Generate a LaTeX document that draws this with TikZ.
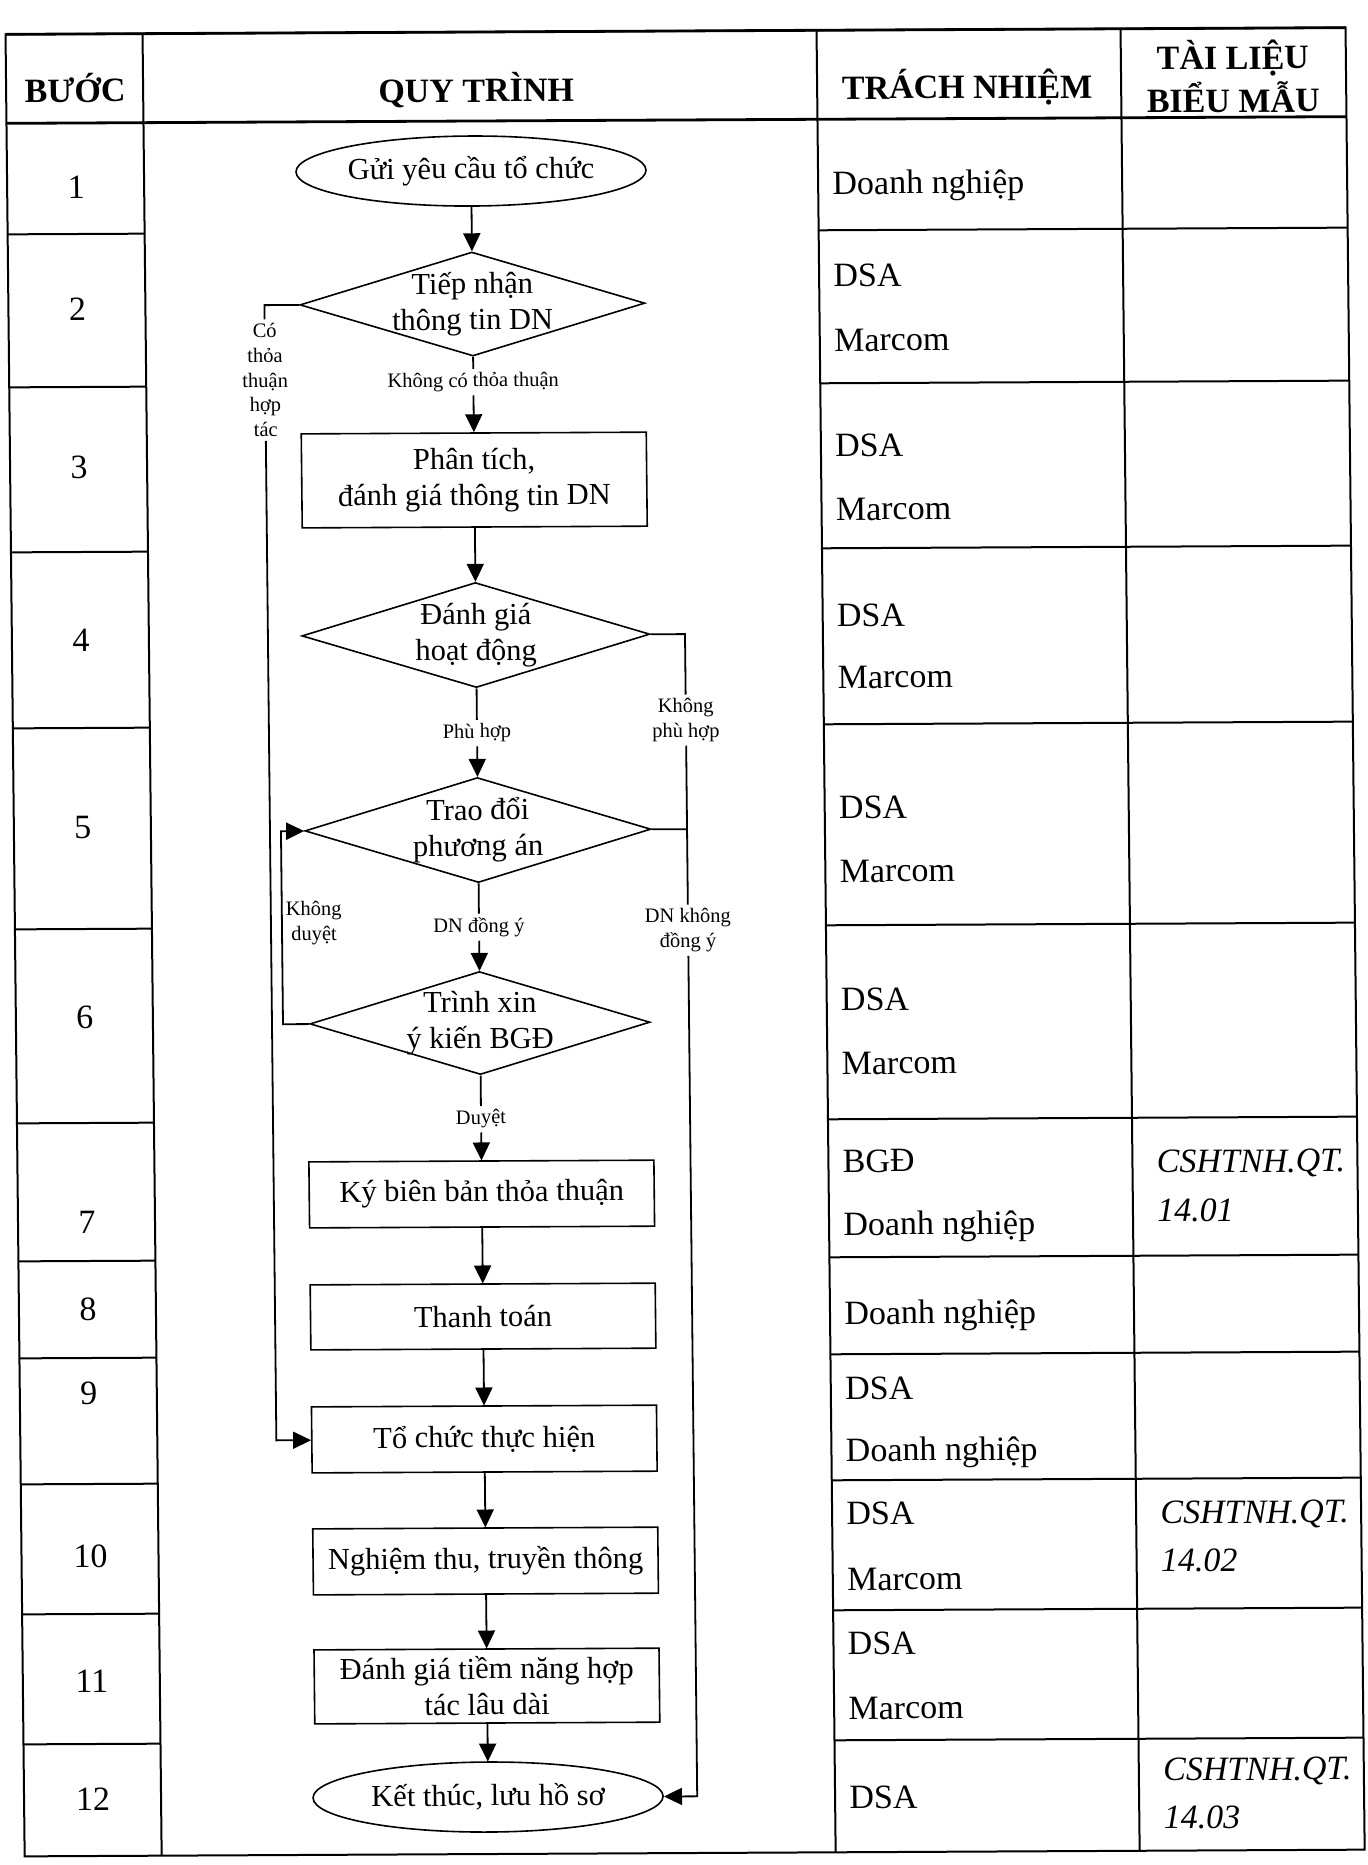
\documentclass[tikz,border=0pt]{standalone}
\usepackage{fontspec}
\setmainfont{Liberation Serif}
\usetikzlibrary{shapes.geometric,arrows.meta}
\newcommand\tabfont{\fontsize{17pt}{20pt}\selectfont}
\newcommand\flowfont{\fontsize{15.25pt}{18pt}\selectfont}
\newcommand\labfont{\fontsize{10.25pt}{12.4pt}\selectfont}
\begin{document}
\begin{tikzpicture}[x=0.5pt,y=-0.5pt,
  tline/.style={line width=1pt},
  heavy/.style={line width=1.4pt},
  conn/.style={line width=0.9pt},
  arr/.style={conn,-{Triangle[length=9pt,width=8.5pt]}},
  fbox/.style={draw,line width=0.8pt,minimum width=172.5pt,inner sep=0pt,font=\flowfont,align=center},
  fdia/.style={diamond,draw,line width=0.8pt,inner sep=0pt},
  fell/.style={ellipse,draw,line width=0.8pt,inner sep=0pt,minimum width=175pt,minimum height=35pt,font=\flowfont},
  ftext/.style={font=\flowfont,align=center,inner sep=0pt},
  lbl/.style={font=\labfont,align=center,inner sep=1.75pt},
  cell/.style={anchor=base west,font=\tabfont,inner sep=0pt},
  cellit/.style={anchor=base west,font=\tabfont\itshape,inner sep=0pt},
  num/.style={anchor=base,font=\tabfont,inner sep=0pt},
  hdr/.style={anchor=base,font=\tabfont\bfseries,inner sep=0pt},
]
\useasboundingbox (0,0) rectangle (1367,1865);
\fill[white] (0,0) rectangle (1367,1865);
\begin{scope}[cm={1,0.005,-0.0105,1,(-4.8956pt,-1.70875pt)},transform shape]
% ---------- table ----------
\draw[tline] (15,31) rectangle (1355,1853);
\draw[heavy] (15,31) -- (1355,31);
\draw[heavy] (15,120) -- (1355,120);
\foreach \x in {152,826,1130} \draw[tline] (\x,31) -- (\x,1853);
\foreach \y in {231,384,549,725,926,1120,1258,1355,1481,1611,1741} {
  \draw[tline] (15,\y) -- (152,\y);
  \draw[tline] (826,\y) -- (1355,\y);
}
% header
\node[hdr] (h1) at (84,99) {BƯỚC};
\node[hdr] (h2) at (485,101) {QUY TRÌNH};
\node[hdr] (h3) at (976,100) {TRÁCH NHIỆM};
\node[hdr] (h4a) at (1242,72) {TÀI LIỆU};
\node[hdr] (h4b) at (1242,115) {BIỂU MẪU};
% step numbers
\node[num] (n1) at (84,195) {1};
\node[num] (n2) at (84,317) {2};
\node[num] (n3) at (84,475) {3};
\node[num] (n4) at (84,648) {4};
\node[num] (n5) at (84,835) {5};
\node[num] (n6) at (84,1025) {6};
\node[num] (n7) at (84,1230) {7};
\node[num] (n8) at (84,1317) {8};
\node[num] (n9) at (84,1401) {9};
\node[num] (n10) at (84,1564) {10};
\node[num] (n11) at (84,1689) {11};
\node[num] (n12) at (84,1807) {12};
% responsibilities
\node[cell] (r1) at (840,195) {Doanh nghiệp};
\node[cell] (r2a) at (840,287) {DSA};
\node[cell] (r2b) at (840,352) {Marcom};
\node[cell] (r3a) at (840,457) {DSA};
\node[cell] (r3b) at (840,521) {Marcom};
\node[cell] (r4a) at (840,627) {DSA};
\node[cell] (r4b) at (840,689) {Marcom};
\node[cell] (r5a) at (840,819) {DSA};
\node[cell] (r5b) at (840,883) {Marcom};
\node[cell] (r6a) at (840,1011) {DSA};
\node[cell] (r6b) at (840,1075) {Marcom};
\node[cell] (r7a) at (840,1173) {BGĐ};
\node[cell] (r7b) at (840,1236) {Doanh nghiệp};
\node[cell] (r8) at (840,1325) {Doanh nghiệp};
\node[cell] (r9a) at (840,1400) {DSA};
\node[cell] (r9b) at (840,1462) {Doanh nghiệp};
\node[cell] (r10a) at (840,1525) {DSA};
\node[cell] (r10b) at (840,1591) {Marcom};
\node[cell] (r11a) at (840,1655) {DSA};
\node[cell] (r11b) at (840,1720) {Marcom};
\node[cell] (r12) at (840,1809) {DSA};
% documents
\node[cellit] (f7a) at (1154,1175) {CSHTNH.QT.};
\node[cellit] (f7b) at (1154,1224) {14.01};
\node[cellit] (f10a) at (1154,1526) {CSHTNH.QT.};
\node[cellit] (f10b) at (1154,1574) {14.02};
\node[cellit] (f12a) at (1154,1783) {CSHTNH.QT.};
\node[cellit] (f12b) at (1154,1831) {14.03};
% ---------- flowchart ----------
\node[fell] (e1) at (479,170) {Gửi yêu cầu tổ chức};
\node[fdia,minimum width=172.5pt,minimum height=52pt] (d1) at (479,303) {};
\node[ftext] (t1) at (d1) {Tiếp nhận\\thông tin DN};
\node[lbl] (l1) at (479,381) {Không có thỏa thuận};
\node[fbox,minimum height=47pt] (b1) at (479,479) {Phân tích,\\đánh giá thông tin DN};
\node[fdia,minimum width=174pt,minimum height=52.5pt] (d2) at (479,634) {};
\node[ftext] (t2) at (d2) {Đánh giá\\hoạt động};
\node[lbl] (l2) at (479,732) {Phù hợp};
\node[fdia,minimum width=173pt,minimum height=52.5pt] (d3) at (479,829) {};
\node[ftext] (t3) at (d3) {Trao đổi\\phương án};
\node[lbl] (l3) at (479,926) {DN đồng ý};
\node[fdia,minimum width=170pt,minimum height=51.5pt] (d4) at (479,1022) {};
\node[ftext] (t4) at (d4) {Trình xin\\ý kiến BGĐ};
\node[lbl] (l4) at (479,1118) {Duyệt};
\node[fbox,minimum height=33pt] (b2) at (479,1193) {Ký biên bản thỏa thuận};
\node[fbox,minimum height=32.5pt] (b3) at (479,1315.5) {Thanh toán};
\node[fbox,minimum height=33pt] (b4) at (479,1438) {Tổ chức thực hiện};
\node[fbox,minimum height=33pt] (b5) at (479,1560) {Nghiệm thu, truyền thông};
\node[fbox,minimum height=37pt] (b6) at (479,1685) {Đánh giá tiềm năng hợp\\tác lâu dài};
\node[fell] (e2) at (479,1796) {Kết thúc, lưu hồ sơ};
% branch labels
\node[lbl] (lco) at (271,378) {Có\\thỏa\\thuận\\hợp\\tác};
\node[lbl] (lkph) at (688,720) {Không\\phù hợp};
\node[lbl] (ldnk) at (688,930) {DN không\\đồng ý};
\node[lbl] (lkd) at (314,921) {Không\\duyệt};
% corner points
\coordinate (cL1) at (271,303);
\coordinate (cL2) at (271,1438);
\coordinate (cR1) at (688,634);
\coordinate (cR2) at (688,829);
\coordinate (cR3) at (688,1796);
\coordinate (cK1) at (282,1022);
\coordinate (cK2) at (282,829);
% main connectors
\draw[arr] (e1) -- (d1);
\draw[conn] (d1) -- (l1);
\draw[arr] (l1) -- (b1);
\draw[arr] (b1) -- (d2);
\draw[conn] (d2) -- (l2);
\draw[arr] (l2) -- (d3);
\draw[conn] (d3) -- (l3);
\draw[arr] (l3) -- (d4);
\draw[conn] (d4) -- (l4);
\draw[arr] (l4) -- (b2);
\draw[arr] (b2) -- (b3);
\draw[arr] (b3) -- (b4);
\draw[arr] (b4) -- (b5);
\draw[arr] (b5) -- (b6);
\draw[arr] (b6) -- (e2);
% side branches
\draw[conn] (d1.west) -- (cL1) -- (lco.north);
\draw[arr] (lco.south) -- (cL2) -- (b4.west);
\draw[conn] (d2.east) -- (cR1) -- (lkph.north);
\draw[conn] (lkph.south) -- (ldnk.north);
\draw[conn] (d3.east) -- (cR2);
\draw[arr] (ldnk.south) -- (cR3) -- (e2.east);
\draw[arr] (d4.west) -- (cK1) -- (cK2) -- (d3.west);
\end{scope}
\end{tikzpicture}
\end{document}
